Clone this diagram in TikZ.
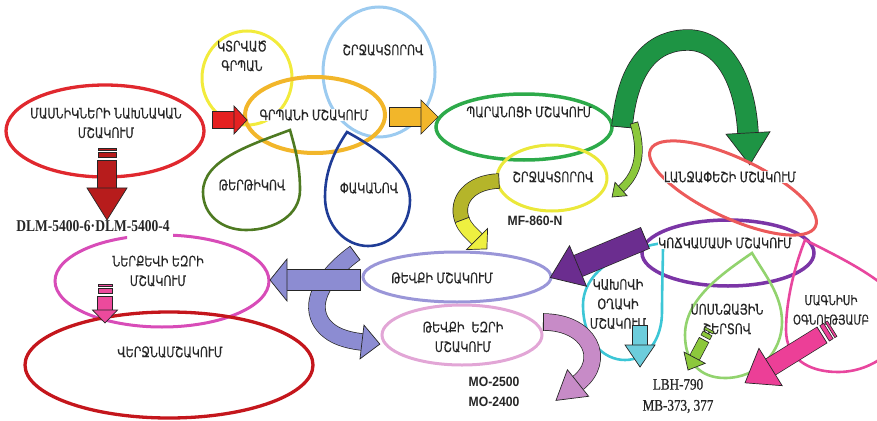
\documentclass[tikz,border=0pt]{standalone}
\usepackage{fontspec}
\setmainfont{DejaVu Sans}
\newfontfamily\arm[FakeStretch=0.76,FakeBold=0.5]{DejaVu Sans}
\newfontfamily\codeserif[FakeStretch=0.82]{Liberation Serif}
\newfontfamily\codeserifb[FakeStretch=0.82,FakeBold=0.8]{Liberation Serif}
\newfontfamily\codesans[FakeStretch=0.9]{Liberation Sans}
\usetikzlibrary{decorations.markings}

\definecolor{cRed}{HTML}{E0282E}
\definecolor{cYellow}{HTML}{F2EB3C}
\definecolor{cLblue}{HTML}{9CCBF0}
\definecolor{cOrange}{HTML}{F2B62A}
\definecolor{cGreen}{HTML}{2DAA4A}
\definecolor{cYellow2}{HTML}{EBE83A}
\definecolor{cOlive}{HTML}{4E7A22}
\definecolor{cDblue}{HTML}{1F3C96}
\definecolor{cSalmon}{HTML}{EC5A5A}
\definecolor{cPurple}{HTML}{7B35A6}
\definecolor{cLav}{HTML}{9A96D8}
\definecolor{cLpink}{HTML}{E2A6D6}
\definecolor{cMagenta}{HTML}{D84CB8}
\definecolor{cDred}{HTML}{C4161C}
\definecolor{cCyan}{HTML}{3CC6D6}
\definecolor{cLgreen}{HTML}{92D36E}
\definecolor{cPinkDrop}{HTML}{E8469E}
\definecolor{aDarkRed}{HTML}{B71C1C}
\definecolor{aRed}{HTML}{E52121}
\definecolor{aOrange}{HTML}{F2B62A}
\definecolor{aGreen}{HTML}{1E9444}
\definecolor{aLgreen}{HTML}{8CC83C}
\definecolor{aOlive}{HTML}{B5B52A}
\definecolor{aYellow}{HTML}{EEF040}
\definecolor{aPurple}{HTML}{6B2D8F}
\definecolor{aPeri}{HTML}{8C8CD2}
\definecolor{aViolet}{HTML}{C78BC7}
\definecolor{aPink}{HTML}{EC4A9C}
\definecolor{aHot}{HTML}{EC3F97}
\definecolor{aCyan}{HTML}{6CCDDC}

% band without head: color, width, path
\newcommand\bband[3]{%
  \draw[line width=#2pt+1.4pt, draw=black!85] #3;
  \draw[line width=#2pt, draw=#1] #3;
  \path[decoration={markings, mark=at position 0 with {\draw[line width=0.7pt, draw=black!85] (0,{-(#2/2+0.7)}) -- (0,{#2/2+0.7});}}, decorate] #3;
}
% block arrow: color, shaft width, head half width, head length, path
\newcommand\barrow[5]{%
  \bband{#1}{#2}{#5}
  \path[decoration={markings, mark=at position 0.9999 with {\filldraw[fill=#1, draw=black!85, line width=0.7pt, line join=miter] (0,-#3) -- (#4,0) -- (0,#3) -- cycle;}}, decorate] #5;
}
% stripes behind the start of a path: color, width, path
\newcommand\bstripes[3]{%
  \path[decoration={markings, mark=at position 0 with {%
    \filldraw[fill=#1, draw=black!85, line width=0.6pt] (-12,{-#2/2}) rectangle (-9.5,{#2/2});
    \filldraw[fill=#1, draw=black!85, line width=0.6pt] (-7.5,{-#2/2}) rectangle (-3,{#2/2});}}, decorate] #3;
}

\begin{document}
\begin{tikzpicture}[x=1pt,y=-1pt,
  lab/.style={font=\arm\fontsize{14.5}{19.5}\selectfont, inner sep=0.5pt, align=center, text=black!85},
  dlm/.style={font=\codeserif\bfseries\fontsize{16.5}{19}\selectfont, inner sep=0pt, text=black!85},
  msans/.style={font=\codesans\bfseries\fontsize{13.5}{20}\selectfont, inner sep=0pt, align=center, text=black!85},
  mser/.style={font=\codeserifb\fontsize{16}{21}\selectfont, inner sep=0pt, align=center, text=black!85},
  ring/.style={line width=3pt},
  drop/.style={line width=2.6pt}]

\path[use as bounding box] (0,0) rectangle (877,420);
\clip (0,0) rectangle (877,420);

% ---- ellipses and circles
\draw[ring, cRed, line width=3.3pt] (105,131) ellipse [x radius=99, y radius=46];
\draw[ring, cYellow] (247,78) ellipse [x radius=45, y radius=47];
\draw[ring, cLblue] (379,72) ellipse [x radius=56, y radius=65];
\draw[ring, cOrange, line width=4pt] (315,115) ellipse [x radius=70, y radius=38];
\draw[ring, cGreen, line width=3.5pt] (524,127) ellipse [x radius=88, y radius=33];
\draw[ring, cYellow2] (552,178) ellipse [x radius=55, y radius=33];
\draw[ring, cPurple, line width=3.5pt] (728,253) ellipse [x radius=86, y radius=33];
\draw[ring, cLav] (457,277) ellipse [x radius=94, y radius=25];
\draw[ring, cLpink] (462,335) ellipse [x radius=80, y radius=30];
\begin{scope}[even odd rule]
  \clip (0,0) rectangle (877,420) (127,225) rectangle (173,248);
  \draw[ring, cMagenta] (162,281) ellipse [x radius=107, y radius=46];
\end{scope}
\draw[ring, cDred, line width=3.3pt] (169,365) ellipse [x radius=144, y radius=53];

% ---- drops
\draw[drop, cOlive] (290,130) .. controls (250,145) and (203,160) .. (203,192) .. controls (203,215) and (222,230) .. (246,230) .. controls (275,230) and (300,215) .. (300,190) .. controls (300,165) and (295,148) .. (290,130) -- cycle;
\draw[drop, cDblue] (347,132) .. controls (335,150) and (325,170) .. (325,197) .. controls (325,225) and (345,246) .. (368,246) .. controls (392,246) and (410,225) .. (410,200) .. controls (410,172) and (380,150) .. (347,132) -- cycle;
\draw[drop, cCyan] (663,243) .. controls (625,248) and (583,270) .. (583,305) .. controls (583,340) and (603,360) .. (625,360) .. controls (648,360) and (662,338) .. (662,312) .. controls (662,285) and (663,262) .. (663,243) -- cycle;
\draw[drop, cLgreen] (752,253) .. controls (720,275) and (685,300) .. (685,335) .. controls (685,362) and (700,378) .. (725,378) .. controls (758,378) and (782,352) .. (782,322) .. controls (782,295) and (765,275) .. (752,253) -- cycle;
\draw[drop, cPinkDrop] (805,240) .. controls (795,265) and (786,300) .. (786,330) .. controls (786,358) and (808,372) .. (838,372) .. controls (875,372) and (905,345) .. (905,318) .. controls (905,290) and (850,262) .. (805,240) -- cycle;

% ---- labels
\node[lab] (t1) at (106,123) {ՄԱՍՆԻԿՆԵՐԻ ՆԱԽՆԱԿԱՆ\\ՄՇԱԿՈՒՄ};
\node[lab] (t2) at (242,56) {ԿՏՐՎԱԾ\\ԳՐՊԱՆ};
\node[lab] (t3) at (383,50) {ՇՐՋԱԿՏՈՐՈՎ};
\node[lab, fill=white] (t4) at (314,115) {ԳՐՊԱՆԻ ՄՇԱԿՈՒՄ};
\node[lab] (t5) at (529,112) {ՊԱՐԱՆՈՑԻ ՄՇԱԿՈՒՄ};
\node[lab] (t6) at (553,177) {ՇՐՋԱԿՏՈՐՈՎ};
\node[lab] (t7) at (252,185) {ԹԵՐԹԻԿՈՎ};
\node[lab] (t8) at (369,188) {ՓԱԿԱՆՈՎ};
\node[lab, fill=white] (t10) at (725,243) {ԿՈՃԿԱՄԱՍԻ ՄՇԱԿՈՒՄ};
\node[lab] (t11) at (158,271) {ՆԵՐՔԵՎԻ ԵԶՐԻ\\ՄՇԱԿՈՒՄ};
\node[lab] (t12) at (442,278) {ԹԵՎՔԻ ՄՇԱԿՈՒՄ};
\node[lab] (t13) at (463,337) {ԹԵՎՔԻ\ \ ԵԶՐԻ\\ՄՇԱԿՈՒՄ};
\node[lab] (t14) at (618,304) {ԿԱԽՈՎԻ\\ՕՂԱԿԻ\\ՄՇԱԿՈՒՄ};
\node[lab] (t15) at (727,319) {ՍՈՍՆՁԱՅԻՆ\\ՇԵՐՏՈՎ};
\node[lab, font=\arm\fontsize{13.5}{19.5}\selectfont] (t16) at (831,310) {ՄԱԳՆԻՍԻ\\ՕԳՆՈՒԹՅԱՄԲ};
\node[lab] (t17) at (170,352) {ՎԵՐՋՆԱՄՇԱԿՈՒՄ};

\node[dlm] (c1) at (93,226) {DLM-5400-6·DLM-5400-4};
\node[msans] (c2) at (535,221) {MF-860-N};
\node[msans] (c3) at (494,392) {MO-2500\\MO-2400};
\node[mser] (c4) at (678,396) {LBH-790\\MB-373, 377};

% ---- arrows
\bstripes{aDarkRed}{18}{(107,160) -- (107,188)}
\barrow{aDarkRed}{18}{20}{32}{(107,160) -- (107,188)}
\barrow{aRed}{16}{14}{13}{(212,120) -- (234,120)}
\barrow{aOrange}{18}{17}{17}{(389,117) -- (421,117)}
\barrow{aGreen}{20}{22}{32}{(622,127) .. controls (628,62) and (655,40) .. (688,40) .. controls (722,40) and (745,78) .. (748,133)}
\barrow{aLgreen}{7}{9}{12}{(634,123) .. controls (642,150) and (640,172) .. (621,189)}
\bband{aOlive}{14}{(499,181) .. controls (470,182) and (455,200) .. (462,220)}
\barrow{aYellow}{14}{15}{14}{(462,220) .. controls (465,228) and (470,232) .. (477,239)}
\bband{aViolet}{16}{(543,322) .. controls (590,322) and (607,360) .. (578,383)}
\filldraw[fill=aViolet, draw=black!85, line width=0.7pt, line join=miter] (588.6,396.3) -- (556,400.4) -- (567.4,369.7) -- cycle;
\barrow{aPeri}{16}{17}{18}{(355,253) .. controls (325,275) and (310,300) .. (320,320) .. controls (328,335) and (345,340) .. (362,342)}
\barrow{aPeri}{20}{21}{17}{(360,280) -- (287,280)}
\barrow{aPurple}{22}{22}{30}{(645,238) -- (578,266)}
\bstripes{aPink}{14}{(105,296) -- (105,310)}
\barrow{aPink}{14}{12.5}{13}{(105,296) -- (105,310)}
\bstripes{aHot}{18}{(822,335) -- (770.5,367)}
\barrow{aHot}{18}{22}{30}{(822,335) -- (770.5,367)}
\bstripes{aLgreen}{10}{(704,340) -- (694.6,357.7)}
\barrow{aLgreen}{10}{12}{14}{(704,340) -- (694.6,357.7)}
\barrow{aCyan}{14}{15}{22}{(640,325) -- (640,345)}

% ---- lapel ellipse over the big green arrow
\draw[ring, cSalmon, rotate around={-25:(733,188)}] (733,188) ellipse [x radius=91, y radius=30];
\node[lab, fill=white] (t9) at (730,177) {ԼԱՆՋԱՓԵՇԻ ՄՇԱԿՈՒՄ};
\end{tikzpicture}
\end{document}
